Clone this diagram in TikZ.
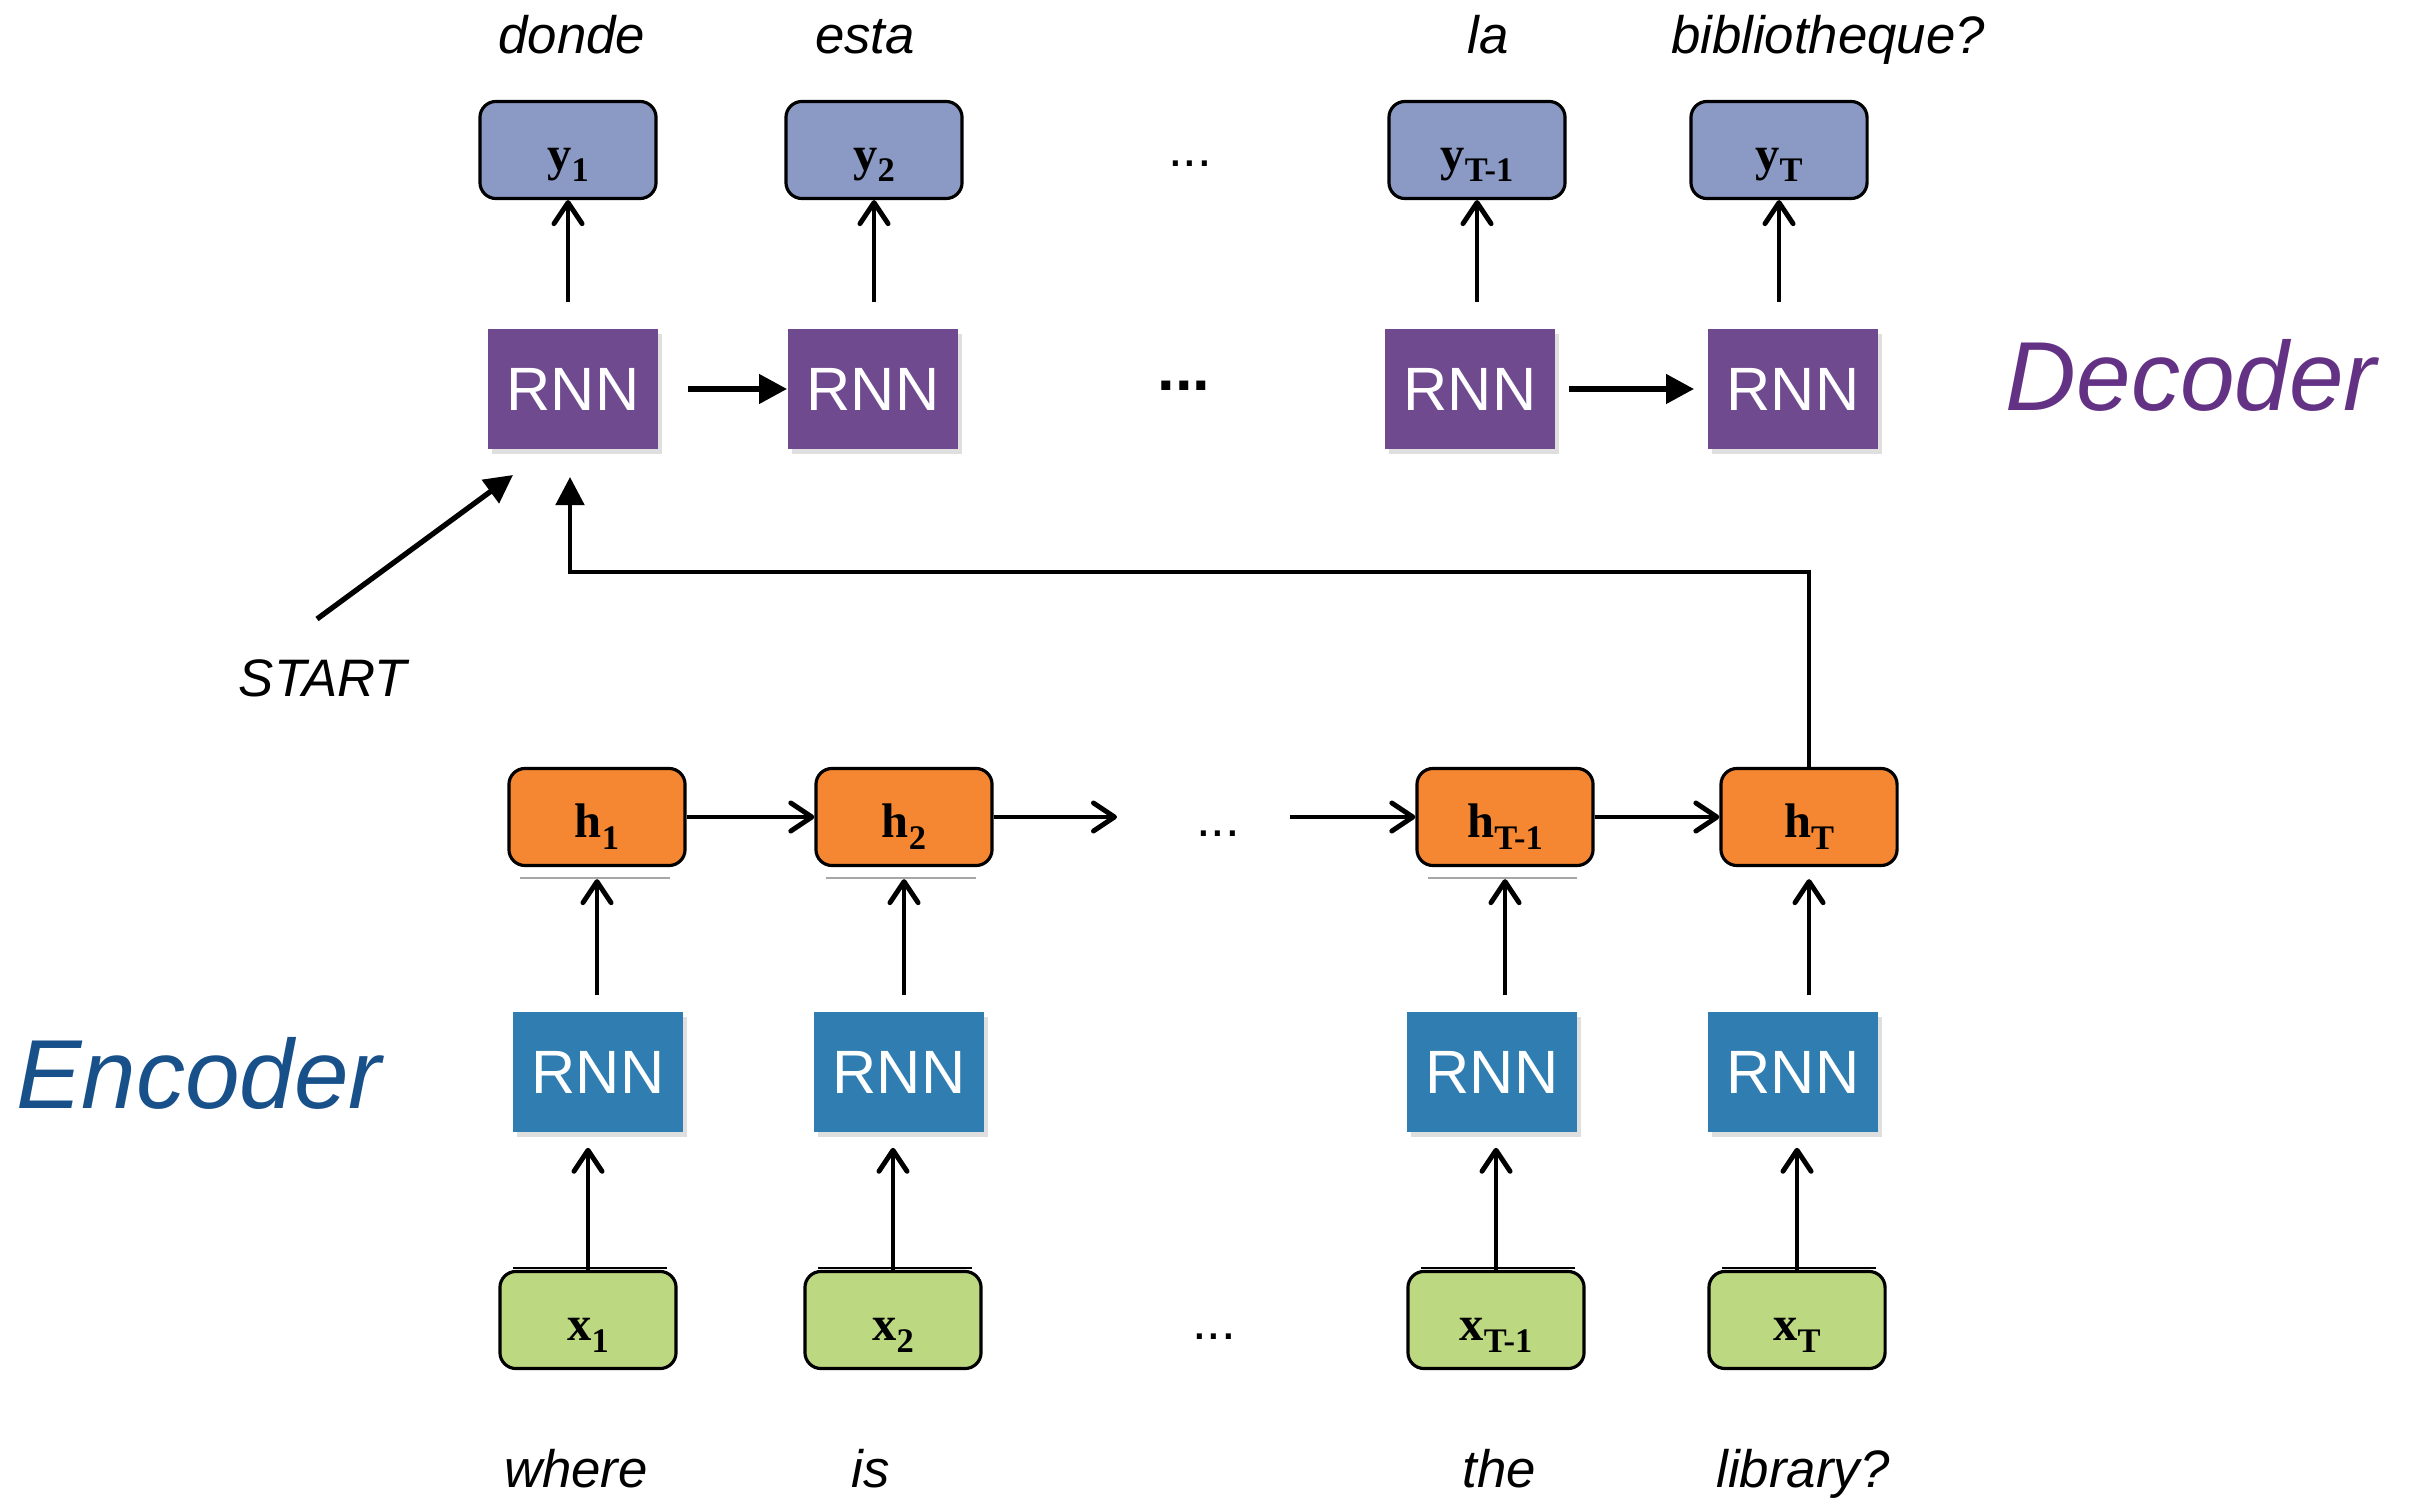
\documentclass[tikz,border=0pt]{standalone}
\usepackage{fontspec}
\setmainfont{Liberation Sans}
\newfontfamily\labelfont{Liberation Serif}
\usetikzlibrary{arrows.meta,calc,shadows}
\definecolor{outBlue}{RGB}{138,154,196}
\definecolor{decPurple}{RGB}{111,74,143}
\definecolor{decText}{RGB}{100,50,132}
\definecolor{hidOrange}{RGB}{245,135,50}
\definecolor{encBlue}{RGB}{47,125,177}
\definecolor{encText}{RGB}{24,80,138}
\definecolor{inGreen}{RGB}{188,216,128}
\newcommand{\seqlbl}[2]{{\labelfont\bfseries\fontsize{13.8}{15}\selectfont #1\raisebox{-3.4pt}{\fontsize{9.8}{11}\selectfont #2}}}
\tikzset{
    base/.style={inner sep=0pt},
    word/.style={base, anchor=base, font=\fontsize{15}{18}\selectfont\itshape},
    dots/.style={base, anchor=base, font=\fontsize{15}{18}\selectfont},
    tokbox/.style={base, rectangle, rounded corners=0.16cm, draw=black, line width=0.9pt,
                   minimum width=1.76cm, minimum height=0.97cm, text height=12pt, text depth=0.6pt},
    outbox/.style={tokbox, fill=outBlue},
    hidbox/.style={tokbox, fill=hidOrange},
    inbox/.style={tokbox, fill=inGreen},
    cell/.style={base, rectangle, minimum width=1.70cm, minimum height=1.20cm, text=white,
                 font=\fontsize{17.4}{20}\selectfont,
                 drop shadow={opacity=0.25, shadow xshift=0.04cm, shadow yshift=-0.05cm}},
    deccell/.style={cell, fill=decPurple},
    enccell/.style={cell, fill=encBlue},
    side/.style={base, anchor=base, font=\fontsize{27.9}{32}\selectfont\itshape},
    flow/.style={-{Straight Barb[length=6pt,width=8pt,round]}, line width=1.4pt},
    push/.style={-{Triangle[length=8pt,width=8pt]}, line width=1.4pt},
    seam/.style={gray!70, line width=0.3pt}
}
\begin{document}
\begin{tikzpicture}[x=0.01cm, y=0.01cm]
  \useasboundingbox (0,0) rectangle (2413,-1498);

  % Decoder: output words and boxes
  \node[word] (o1) at (572,-54) {donde};
  \node[word] (o2) at (865,-54) {esta};
  \node[word] (o3) at (1488,-54) {la};
  \node[word] (o4) at (1828,-54) {bibliotheque?};
  \node[outbox] (y1) at (568,-150) {\seqlbl{y}{1}};
  \node[outbox] (y2) at (874,-150) {\seqlbl{y}{2}};
  \node[outbox] (yTm) at (1477,-150) {\seqlbl{y}{T-1}};
  \node[outbox] (yT) at (1779,-150) {\seqlbl{y}{T}};
  \node[dots] (ydots) at (1190,-167) {...};

  % Decoder cells
  \node[deccell] (d1) at (573,-389) {RNN};
  \node[deccell] (d2) at (873,-389) {RNN};
  \node[deccell] (dTm) at (1470,-389) {RNN};
  \node[deccell] (dT) at (1793,-389) {RNN};
  \node[dots, font=\fontsize{18}{20}\selectfont\bfseries] (ddots) at (1184,-391) {...};
  \node[side, text=decText] (declbl) at (2191,-411) {Decoder};

  % Decoder arrows
  \draw[flow, shorten <=0.26cm] (d1.north -| y1) -- (y1.south);
  \draw[flow, shorten <=0.26cm] (d2.north -| y2) -- (y2.south);
  \draw[flow, shorten <=0.26cm] (dTm.north -| yTm) -- (yTm.south);
  \draw[flow, shorten <=0.26cm] (dT.north -| yT) -- (yT.south);
  \draw[push, line width=1.9pt, shorten <=0.29cm] (d1.east) -- (d2.west);
  \draw[push, line width=1.9pt, shorten <=0.13cm, shorten >=0.13cm] (dTm.east) -- (dT.west);

  % START token
  \node[word] (start) at (323,-697) {START};
  \coordinate (stail) at (317,-619);
  \coordinate (stip) at (513,-475);
  \draw[push, line width=1.5pt] (stail) -- (stip);

  % Encoder states
  \node[hidbox] (h1) at (597,-817) {\seqlbl{h}{1}};
  \node[hidbox] (h2) at (904,-817) {\seqlbl{h}{2}};
  \node[hidbox] (hTm) at (1505,-817) {\seqlbl{h}{T-1}};
  \node[hidbox] (hT) at (1809,-817) {\seqlbl{h}{T}};
  \node[dots] (hdots) at (1218,-837) {...};
  \coordinate (hgo) at (1117,-817);
  \coordinate (hcome) at (1290,-817);
  \draw[flow] (h1.east) -- (h2.west);
  \draw[flow] (h2.east) -- (hgo);
  \draw[flow] (hcome) -- (hTm.west);
  \draw[flow] (hTm.east) -- (hT.west);
  \draw[seam] (520,-878) -- (670,-878);
  \draw[seam] (826,-878) -- (976,-878);
  \draw[seam] (1428,-878) -- (1577,-878);

  % Context fed to the decoder
  \coordinate (fbend) at (570,-572);
  \coordinate (fbtip) at (570,-477);
  \draw[push] (hT.north) |- (fbend) -- (fbtip);

  % Encoder cells
  \node[enccell] (e1) at (598,-1072) {RNN};
  \node[enccell] (e2) at (899,-1072) {RNN};
  \node[enccell] (eTm) at (1492,-1072) {RNN};
  \node[enccell] (eT) at (1793,-1072) {RNN};
  \node[side, text=encText] (enclbl) at (199,-1108) {Encoder};
  \draw[flow, shorten <=0.16cm, shorten >=0.12cm] (e1.north -| h1) -- (h1.south);
  \draw[flow, shorten <=0.16cm, shorten >=0.12cm] (e2.north -| h2) -- (h2.south);
  \draw[flow, shorten <=0.16cm, shorten >=0.12cm] (eTm.north -| hTm) -- (hTm.south);
  \draw[flow, shorten <=0.16cm, shorten >=0.12cm] (eT.north -| hT) -- (hT.south);

  % Encoder inputs
  \node[inbox] (x1) at (588,-1320) {\seqlbl{x}{1}};
  \node[inbox] (x2) at (893,-1320) {\seqlbl{x}{2}};
  \node[inbox] (xTm) at (1496,-1320) {\seqlbl{x}{T-1}};
  \node[inbox] (xT) at (1797,-1320) {\seqlbl{x}{T}};
  \node[dots] (xdots) at (1214,-1339) {...};
  \draw[flow, shorten >=0.15cm] (x1.north) -- (x1.north |- e1.south);
  \draw[flow, shorten >=0.15cm] (x2.north) -- (x2.north |- e2.south);
  \draw[flow, shorten >=0.15cm] (xTm.north) -- (xTm.north |- eTm.south);
  \draw[flow, shorten >=0.15cm] (xT.north) -- (xT.north |- eT.south);
  \draw[black, line width=0.4pt] (513,-1268) -- (667,-1268);
  \draw[black, line width=0.4pt] (818,-1268) -- (972,-1268);
  \draw[black, line width=0.4pt] (1421,-1268) -- (1575,-1268);
  \draw[black, line width=0.4pt] (1722,-1268) -- (1876,-1268);
  \node[word] (w1) at (576,-1487) {where};
  \node[word] (w2) at (871,-1487) {is};
  \node[word] (w3) at (1499,-1487) {the};
  \node[word] (w4) at (1803,-1487) {library?};
\end{tikzpicture}
\end{document}
